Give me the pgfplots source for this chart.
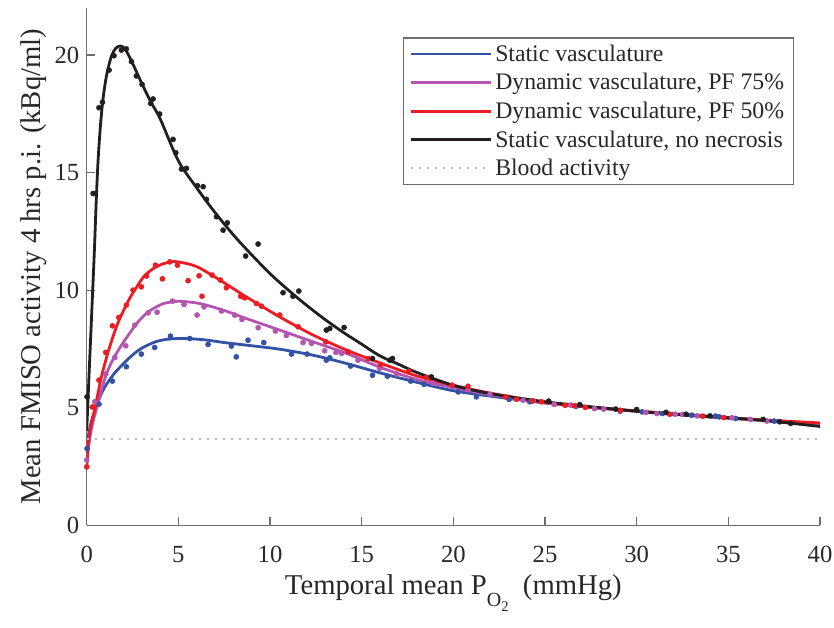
\documentclass[border=0pt]{standalone}
\usepackage{fontspec}
\setmainfont{Liberation Serif}
\usepackage{pgfplots}
\pgfplotsset{compat=1.18}
\definecolor{cblue}{RGB}{50,82,165}
\definecolor{cpurple}{RGB}{180,85,175}
\definecolor{cred}{RGB}{237,28,36}
\definecolor{cblack}{RGB}{35,31,32}
\definecolor{axgray}{RGB}{110,110,110}
\definecolor{txt}{RGB}{40,40,40}
\newcommand{\tickf}{\fontsize{18.5}{22}\selectfont}
\newcommand{\labf}{\fontsize{21.5}{25}\selectfont}
\newcommand{\legf}{\fontsize{17.8}{21}\selectfont}
\begin{document}
\begin{tikzpicture}
\begin{axis}[
 width=549.75pt, height=387.75pt, scale only axis,
 xmin=0, xmax=40, ymin=0, ymax=22,
 axis x line*=bottom, axis y line*=left,
 axis line style={axgray, line width=0.9pt},
 xtick={0,5,...,40}, ytick={0,5,...,20},
 tick style={axgray, line width=0.9pt},
 tick align=inside, major tick length=6pt,
 ticklabel style={font=\tickf, text=txt},
 /pgf/number format/assume math mode=true,
 xticklabel style={yshift=-12pt},
 yticklabel style={xshift=-2pt},
 label style={font=\labf, text=txt},
 xlabel={Temporal mean P\raisebox{-0.9ex}{\fontsize{15}{15}\selectfont O\raisebox{-0.6ex}{\fontsize{11}{11}\selectfont 2}}\ \ (mmHg)},
 xlabel style={yshift=-2pt},
 ylabel={Mean FMISO activity 4 hrs p.i. (kBq/ml)},
 ylabel style={yshift=-1pt},
 legend style={at={(axis description cs:0.9646,0.943)}, anchor=north east,
   draw=axgray, line width=0.9pt, font=\legf, text=txt, inner xsep=5pt, inner ysep=3pt,
   row sep=3.6pt},
 legend cell align=left,
 legend image code/.code={\draw[#1] (6pt,0pt) -- (66pt,0pt);},
]
% ---- scatter points ----
\addplot[only marks, mark=*, mark size=1.9pt, cblue, forget plot] coordinates {
(0.02,3.26)(0.67,5.15)(1.40,6.13)(2.16,6.74)(2.98,7.28)(3.71,7.56)(4.57,8.04)(5.62,7.94)
(6.62,7.69)(7.89,7.62)(8.16,7.16)(8.80,7.87)(9.66,7.77)(11.17,7.28)(12.02,7.28)(13.07,7.02)
(13.26,7.12)(14.39,6.77)(15.59,6.38)(16.4,6.34)(17.67,6.13)(18.4,5.99)(20.26,5.67)(21.26,5.46)
(23.04,5.35)(24.17,5.25)(26.7,5.06)(29.1,4.85)(30.3,4.82)(31.4,4.75)(33.0,4.68)(34.3,4.64)
(34.5,4.61)(35.4,4.54)(37.5,4.43)};
\addplot[only marks, mark=*, mark size=1.9pt, cpurple, forget plot] coordinates {
(0.0,2.77)(0.44,5.25)(1.04,6.43)(1.53,7.13)(2.13,7.63)(2.62,8.51)(3.35,9.03)(3.84,9.06)
(4.68,9.53)(5.31,9.39)(6.02,8.94)(6.40,9.29)(7.35,9.11)(8.07,8.94)(8.47,8.75)(9.35,8.40)
(10.29,8.26)(10.89,8.07)(11.8,7.77)(12.26,7.73)(12.98,7.42)(13.6,7.35)(13.9,7.31)(14.8,7.02)
(15.98,6.67)(16.9,6.43)(18.9,6.03)(20.8,5.77)(22.0,5.57)(23.8,5.32)(24.35,5.29)(25.5,5.14)
(26.4,5.11)(27.7,4.96)(28.2,4.94)(30.5,4.80)(31.1,4.75)(32.1,4.72)(32.5,4.71)(33.3,4.65)
(35.2,4.57)(36.2,4.50)(37.1,4.43)};
\addplot[only marks, mark=*, mark size=1.9pt, cred, forget plot] coordinates {
(0.0,2.48)(0.31,5.03)(0.67,6.17)(1.04,7.35)(1.40,8.48)(1.75,8.84)(2.16,9.36)(2.53,10.0)
(2.98,10.14)(3.26,10.6)(3.75,11.06)(4.13,10.48)(4.53,11.2)(4.95,11.06)(5.53,10.4)(6.13,10.61)
(6.29,9.74)(6.84,10.64)(7.29,10.43)(7.62,10.10)(8.4,9.74)(8.62,9.67)(9.26,9.43)(9.53,9.32)
(10.53,8.94)(11.53,8.44)(13.04,7.80)(14.26,7.38)(15.35,7.09)(16.04,6.84)(17.57,6.55)(18.53,6.28)
(19.93,5.96)(20.8,5.91)(22.86,5.46)(23.44,5.36)(24.31,5.29)(24.81,5.25)(26.1,5.1)(26.6,5.08)
(27.2,5.01)(29.1,4.89)(31.8,4.72)(33.6,4.64)(34.75,4.58)};
\addplot[only marks, mark=*, mark size=1.9pt, cblack, forget plot] coordinates {
(0.02,5.46)(0.35,14.11)(0.67,17.76)(0.86,17.99)(1.22,19.36)(1.49,19.97)(1.89,20.21)(2.16,20.26)
(2.44,19.72)(2.71,19.11)(3.02,18.75)(3.49,17.94)(3.62,18.13)(3.98,17.49)(4.71,16.41)(4.86,15.84)
(5.17,15.15)(5.44,15.18)(6.04,14.44)(6.35,14.40)(6.53,13.86)(7.08,13.12)(7.44,12.55)(7.67,12.86)
(8.67,11.45)(9.35,11.96)(10.71,9.89)(11.25,9.74)(11.57,9.96)(13.07,8.30)(13.26,8.37)(14.04,8.41)
(15.59,7.09)(16.53,7.02)(16.68,7.09)(18.8,6.31)(25.2,5.28)(26.9,5.13)(28.86,4.94)(30.0,4.92)
(31.6,4.80)(32.7,4.72)(34.0,4.65)(36.9,4.50)(37.8,4.40)(38.4,4.33)};
% ---- fitted curves ----
\addplot[cblue, line width=2.1pt, smooth] coordinates {
(0,3.25)(0.05,3.65)(0.25,4.4)(0.53,5.04)(0.8,5.6)(1.11,6.03)(1.5,6.45)(1.84,6.74)(2.3,7.1)
(2.84,7.45)(3.3,7.65)(3.75,7.80)(4.3,7.9)(4.93,7.94)(5.5,7.94)(6.5,7.88)(7.5,7.77)(8.7,7.66)
(10.5,7.49)(12.35,7.23)(14.17,6.88)(16,6.48)(18,6.08)(20,5.72)(22.5,5.44)(25,5.2)(27,5.05)
(30,4.85)(33,4.68)(35,4.57)(37.5,4.43)(40,4.3)};
\addlegendentry{Static vasculature}
\addplot[cpurple, line width=2.1pt, smooth] coordinates {
(0,2.77)(0.16,3.65)(0.3,4.25)(0.56,5.04)(1.02,6.31)(1.4,7.0)(1.84,7.59)(2.3,8.12)(2.75,8.6)
(3.2,8.97)(3.6,9.2)(4.16,9.42)(4.75,9.51)(5.2,9.52)(6.16,9.43)(7.44,9.15)(8.71,8.79)
(10.53,8.30)(12.35,7.80)(14.17,7.31)(16,6.72)(18,6.2)(20,5.85)(22,5.55)(25,5.2)(28,4.98)
(31,4.78)(34,4.6)(37,4.45)(40,4.3)};
\addlegendentry{Dynamic vasculature, PF 75\%}
\addplot[cred, line width=2.1pt, smooth] coordinates {
(0,2.4)(0.11,3.65)(0.25,4.3)(0.47,5.04)(0.8,6.3)(1.2,7.45)(1.7,8.6)(2.29,9.57)(2.7,10.1)
(3.11,10.57)(3.6,10.9)(4.1,11.1)(4.6,11.2)(5.0,11.2)(6.0,11.0)(7.26,10.43)(8.71,9.71)
(10.53,8.86)(12.35,8.09)(14.17,7.45)(16,6.9)(18,6.35)(20,5.95)(22,5.62)(24,5.35)(26,5.12)
(28,4.98)(30,4.86)(33,4.68)(36,4.52)(40,4.35)};
\addlegendentry{Dynamic vasculature, PF 50\%}
\addplot[cblack, line width=2.1pt, smooth] coordinates {
(0,4.0)(0.15,6.8)(0.3,9.5)(0.42,11.7)(0.52,13.8)(0.62,15.5)(0.75,17.0)(0.9,18.2)(1.1,19.2)
(1.35,19.95)(1.6,20.3)(1.85,20.38)(2.1,20.25)(2.5,19.65)(3.0,18.8)(3.5,18.0)(4.0,17.3)
(5.0,15.5)(6,14.35)(7,13.3)(8,12.35)(9,11.5)(10,10.7)(11,10.0)(12,9.35)(13,8.75)(14,8.2)
(15,7.7)(16,7.2)(17,6.85)(18,6.5)(20,5.95)(22,5.6)(25,5.25)(28,5.0)(31,4.78)(34,4.62)
(37,4.45)(40,4.2)};
\addlegendentry{Static vasculature, no necrosis}
\addplot[gray!55, line width=1.5pt, dash pattern=on 1.5pt off 4.5pt] coordinates {(0,3.65)(40,3.65)};
\addlegendentry{Blood activity}
\end{axis}
\pgfresetboundingbox
\path ([xshift=-65pt,yshift=-77pt]current axis.south west) rectangle ([xshift=10.5pt,yshift=6pt]current axis.north east);
\end{tikzpicture}
\end{document}
